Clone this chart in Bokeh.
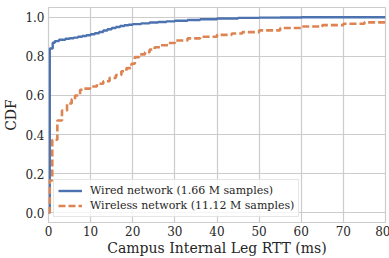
from bokeh.plotting import figure
from bokeh.models import Range1d, FixedTicker, Legend, LegendItem, CustomJSTickFormatter
from bokeh.embed import file_html
from bokeh.resources import INLINE

wired_x = [0, 0.3, 1.0, 1.5, 2.5, 4, 5, 6, 7, 8, 9, 10, 11, 12, 13, 14, 15, 16, 17, 18, 19, 20,
           22, 24, 26, 28, 30, 33, 36, 40, 45, 50, 55, 60, 80]
wired_y = [0, 0.84, 0.87, 0.878, 0.885, 0.89, 0.893, 0.896, 0.9, 0.904, 0.908, 0.913, 0.918, 0.925, 0.932,
           0.939, 0.945, 0.95, 0.955, 0.959, 0.962, 0.965, 0.969, 0.973, 0.976, 0.979, 0.982, 0.986, 0.99,
           0.994, 0.997, 0.998, 0.999, 1.0, 1.0]

wireless_x = [0, 0.3, 0.9, 2.1, 3.2, 4.4, 5.5, 6.3, 7.5, 8.5, 9.9, 11.5, 13, 14.5, 16, 17.3, 18.5, 19.7,
              20.5, 21.5, 22.9, 24, 25.2, 26.5, 28.4, 30, 33, 36, 40, 43.5, 46, 50, 55, 60, 65, 70, 75, 80]
wireless_y = [0, 0.165, 0.373, 0.472, 0.523, 0.559, 0.58, 0.60, 0.629, 0.635, 0.646, 0.66, 0.673, 0.69, 0.705,
              0.724, 0.74, 0.762, 0.796, 0.81, 0.821, 0.835, 0.847, 0.857, 0.868, 0.881, 0.892, 0.90, 0.91,
              0.917, 0.924, 0.933, 0.945, 0.953, 0.96, 0.967, 0.974, 0.98]

labels = ["Wired network (1.66 M samples)", "Wireless network (11.12 M samples)"]
x_ticks = [0, 10, 20, 30, 40, 50, 60, 70, 80]
y_ticks = [0.0, 0.2, 0.4, 0.6, 0.8, 1.0]

FONT = "DejaVu Serif"
TXT = "#262626"
GRID = "#cccccc"

p = figure(frame_width=337, frame_height=215, output_backend="svg", toolbar_location=None,
           x_range=Range1d(0, 80), y_range=Range1d(-0.05, 1.05),
           min_border_top=7, min_border_left=47, min_border_right=5, min_border_bottom=36)
p.outline_line_color = GRID
p.outline_line_width = 1.2

l1 = p.step(wired_x, wired_y, mode="after", line_color="#4C72B0", line_width=2.4)
l2 = p.step(wireless_x, wireless_y, mode="after", line_color="#DD8452", line_width=2.6, line_dash="7 3")

for ax in (p.xaxis[0], p.yaxis[0]):
    ax.axis_line_color = None
    ax.major_tick_line_color = None
    ax.minor_tick_line_color = None
    ax.major_tick_out = 0
    ax.major_tick_in = 0
    ax.major_label_text_font = FONT
    ax.major_label_text_font_size = "12px"
    ax.major_label_text_color = TXT
    ax.axis_label_text_font = FONT
    ax.axis_label_text_font_size = "14px"
    ax.axis_label_text_font_style = "normal"
    ax.axis_label_text_color = TXT

p.xaxis[0].major_label_standoff = 3
p.xaxis[0].axis_label_standoff = 1
p.yaxis[0].major_label_standoff = 4
p.yaxis[0].axis_label_standoff = 3

p.xaxis[0].ticker = FixedTicker(ticks=x_ticks)
p.yaxis[0].ticker = FixedTicker(ticks=y_ticks)
p.yaxis[0].formatter = CustomJSTickFormatter(code="return tick.toFixed(1);")
p.xaxis[0].axis_label = "Campus Internal Leg RTT (ms)"
p.yaxis[0].axis_label = "CDF"

p.xgrid.grid_line_color = GRID
p.ygrid.grid_line_color = GRID
p.xgrid.grid_line_width = 1.2
p.ygrid.grid_line_width = 1.2

legend = Legend(items=[LegendItem(label=labels[0], renderers=[l1]),
                       LegendItem(label=labels[1], renderers=[l2])],
                location=(5, 5))
legend.label_text_font = FONT
legend.label_text_font_size = "11px"
legend.label_text_color = TXT
legend.label_height = 13
legend.glyph_height = 13
legend.glyph_width = 24
legend.label_standoff = 8
legend.spacing = 2
legend.padding = 4
legend.margin = 0
legend.border_line_color = GRID
legend.border_line_width = 1
legend.background_fill_alpha = 0.8
p.add_layout(legend, "center")

open("out.html", "w").write(file_html(p, INLINE))
